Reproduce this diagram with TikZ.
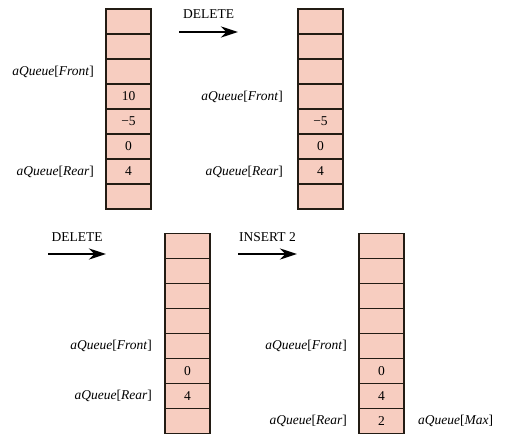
\documentclass[tikz,border=0pt]{standalone}
\usepackage{fontspec}
\setmainfont{Liberation Serif}
\usetikzlibrary{arrows.meta,positioning}
\definecolor{cellpink}{RGB}{247,205,192}
\definecolor{celledge}{RGB}{35,28,20}
\newcommand{\qidx}[1]{\textit{aQueue}[\textit{#1}]}

\begin{document}
\begin{tikzpicture}[x=1pt, y=1pt, font=\fontsize{13.5}{16}\selectfont,
  cell/.style={draw=celledge, fill=cellpink, line width=1.2pt,
    minimum width=45pt, minimum height=25pt, inner sep=0pt, outer sep=0pt},
  lab/.style={inner sep=0pt},
  op/.style={-{Stealth[length=17pt,width=11pt]}, line width=2.8pt}]
\useasboundingbox (0,0) rectangle (510,445);

% queue before any operation
\foreach \v [count=\i] in {{},{},{},10,−5,0,4,{}}
  \node[cell] (p\i) at (128.5, 448.5-25*\i) {\v};
\node (pfront) [lab, left=12pt of p3] {\qidx{Front}};
\node (prear) [lab, left=12pt of p7] {\qidx{Rear}};

% after first delete
\foreach \v [count=\i] in {{},{},{},{},−5,0,4,{}}
  \node[cell] (q\i) at (320.5, 448.5-25*\i) {\v};
\node (qfront) [lab, left=15pt of q4] {\qidx{Front}};
\node (qrear) [lab, left=15pt of q7] {\qidx{Rear}};

% after second delete
\foreach \v [count=\i] in {{},{},{},{},{},0,4,{}}
  \node[cell] (r\i) at (187.5, 224-25*\i) {\v};
\node (rfront) [lab, left=13pt of r5] {\qidx{Front}};
\node (rrear) [lab, left=13pt of r7] {\qidx{Rear}};

% after insert
\foreach \v [count=\i] in {{},{},{},{},{},0,4,2}
  \node[cell] (s\i) at (381.5, 224-25*\i) {\v};
\node (sfront) [lab, left=12pt of s5] {\qidx{Front}};
\node (srear) [lab, left=12pt of s8] {\qidx{Rear}};
\node (smax) [lab, right=14pt of s8] {\qidx{Max}};

% operations
\coordinate (d1a) at (179,413);
\coordinate (d1b) at (238,413);
\coordinate (d2a) at (48,191);
\coordinate (d2b) at (106,191);
\coordinate (i1a) at (238,191);
\coordinate (i1b) at (297,191);
\draw[op] (d1a) -- node[above=9pt] {DELETE} (d1b);
\draw[op] (d2a) -- node[above=8pt] {DELETE} (d2b);
\draw[op] (i1a) -- node[above=8pt] {INSERT 2} (i1b);
\end{tikzpicture}
\end{document}
